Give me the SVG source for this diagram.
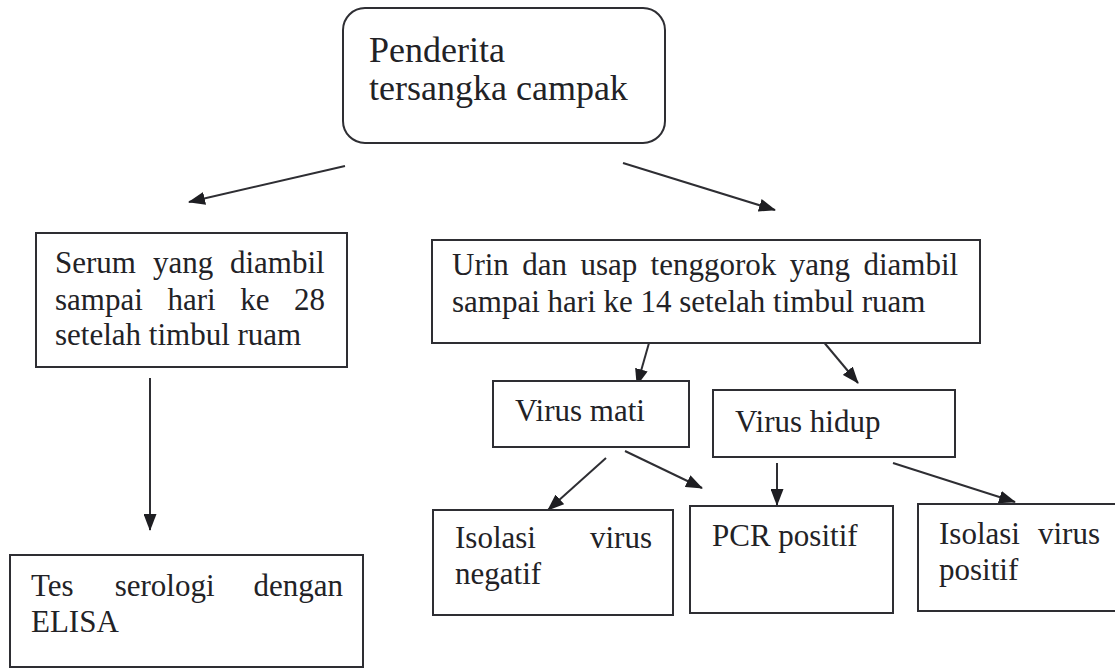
<svg xmlns="http://www.w3.org/2000/svg" width="1115" height="669" viewBox="0 0 1115 669">
<style>
.box{fill:#fff;stroke:#2e2e33;stroke-width:2}
.t{font-family:"Liberation Serif","Times New Roman",serif;font-size:31px;fill:#222226}
.big{font-size:36px}
.c{stroke:#2e2e33;stroke-width:2;fill:none;marker-end:url(#ah)}
</style>
<defs>
<marker id="ah" markerUnits="userSpaceOnUse" markerWidth="17" markerHeight="13" refX="16" refY="6.5" orient="auto">
<path d="M0,0 L17,6.5 L0,13 z" fill="#1e1e22"/>
</marker>
</defs>
<rect width="1115" height="669" fill="#fff"/>
<g id="connectors">
<line class="c" x1="345" y1="166" x2="189" y2="202"/>
<line class="c" x1="623" y1="163" x2="775" y2="210"/>
<line class="c" x1="150" y1="378" x2="150" y2="530"/>
<line class="c" x1="649" y1="343" x2="637" y2="385"/>
<line class="c" x1="822" y1="340" x2="858" y2="383"/>
<line class="c" x1="606" y1="458" x2="548" y2="510"/>
<line class="c" x1="625" y1="451" x2="702" y2="488"/>
<line class="c" x1="777" y1="463" x2="777" y2="505"/>
<line class="c" x1="893" y1="463" x2="1015" y2="502"/>
</g>
<g id="n-penderita">
<rect class="box" x="343" y="8" width="322" height="135" rx="22"/>
<text class="t big" x="369" y="62">Penderita</text>
<text class="t big" x="369" y="100">tersangka campak</text>
</g>
<g id="n-serum">
<rect class="box" x="36" y="233" width="311" height="134"/>
<text class="t" y="273"><tspan x="55">Serum</tspan><tspan x="153">yang</tspan><tspan x="230">diambil</tspan></text>
<text class="t" y="310"><tspan x="55">sampai</tspan><tspan x="167.4">hari</tspan><tspan x="240.2">ke</tspan><tspan x="294.1">28</tspan></text>
<text class="t" x="55" y="345">setelah timbul ruam</text>
</g>
<g id="n-tes">
<rect class="box" x="10" y="555" width="353" height="112"/>
<text class="t" y="596"><tspan x="31">Tes</tspan><tspan x="114.7">serologi</tspan><tspan x="253.5">dengan</tspan></text>
<text class="t" x="31" y="632">ELISA</text>
</g>
<g id="n-urin">
<rect class="box" x="432" y="240" width="548" height="103"/>
<text class="t" y="275"><tspan x="452">Urin</tspan><tspan x="522.2">dan</tspan><tspan x="580.4">usap</tspan><tspan x="650.6">tenggorok</tspan><tspan x="789.7">yang</tspan><tspan x="863.4">diambil</tspan></text>
<text class="t" x="452" y="312">sampai hari ke 14 setelah timbul ruam</text>
</g>
<g id="n-virus-mati">
<rect class="box" x="493" y="381" width="196" height="66"/>
<text class="t" x="515" y="421">Virus mati</text>
</g>
<g id="n-virus-hidup">
<rect class="box" x="713" y="390" width="242" height="67"/>
<text class="t" x="735" y="432">Virus hidup</text>
</g>
<g id="n-isolasi-negatif">
<rect class="box" x="433" y="510" width="240" height="105"/>
<text class="t" y="548"><tspan x="455">Isolasi</tspan><tspan x="590">virus</tspan></text>
<text class="t" x="455" y="584">negatif</text>
</g>
<g id="n-pcr">
<rect class="box" x="690" y="506" width="203" height="107"/>
<text class="t" x="712" y="546">PCR positif</text>
</g>
<g id="n-isolasi-positif">
<rect class="box" x="918" y="504" width="205" height="107"/>
<text class="t" y="544"><tspan x="939">Isolasi</tspan><tspan x="1038">virus</tspan></text>
<text class="t" x="939" y="580">positif</text>
</g>
</svg>
